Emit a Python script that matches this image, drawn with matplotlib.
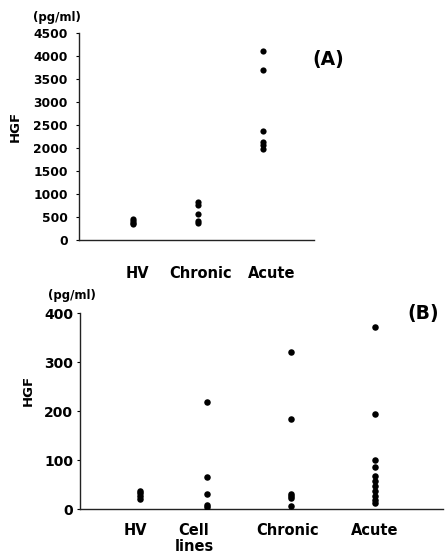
import matplotlib
matplotlib.use("Agg")
import matplotlib.pyplot as plt
import matplotlib.transforms as mtransforms

plt.rcParams['font.family'] = ['DejaVu Sans']
plt.rcParams['font.weight'] = 'bold'

# Panel A data
a_categories = ["HV", "Chronic", "Acute"]
a_positions = [1, 2, 3]
a_hv = [460, 420, 380, 340]
a_chronic = [820, 770, 560, 420, 360]
a_acute = [4110, 3690, 2380, 2130, 2060, 1980]
a_yticks = [0, 500, 1000, 1500, 2000, 2500, 3000, 3500, 4000, 4500]

# Panel B data
b_categories = ["HV", "Cell\nlines", "Chronic", "Acute"]
b_positions = [1, 2, 3.25, 4.5]
b_hv = [38, 33, 27, 22]
b_cell = [220, 65, 32, 8, 5]
b_chronic = [322, 184, 31, 27, 24, 6]
b_acute = [372, 195, 100, 86, 67, 57, 47, 38, 28, 18, 12]
b_yticks = [0, 100, 200, 300, 400]

fig = plt.figure(figsize=(4.45, 5.54), dpi=100)
W, H = 445, 554

def style(ax):
    for s in ['top', 'right']:
        ax.spines[s].set_visible(False)
    for s in ['left', 'bottom']:
        ax.spines[s].set_linewidth(1.0)
        ax.spines[s].set_color('#222222')

def shift_label(lbl, dx_px):
    lbl.set_transform(lbl.get_transform() + mtransforms.ScaledTranslation(dx_px / 100, 0, fig.dpi_scale_trans))

# Panel A
axA = fig.add_axes([79 / W, 1 - 240 / H, 235 / W, 207 / H])
style(axA)
for pos, vals in zip(a_positions, [a_hv, a_chronic, a_acute]):
    axA.scatter([pos] * len(vals), vals, s=20, color='black', marker='o', linewidths=0, zorder=3)
axA.set_xlim(0.17, 3.78)
axA.set_ylim(0, 4500)
axA.set_yticks(a_yticks)
axA.set_yticklabels([str(v) for v in a_yticks], fontsize=8.8, fontweight='bold')
axA.set_xticks(a_positions)
axA.set_xticklabels(a_categories, fontsize=10.5, fontweight='bold')
axA.tick_params(axis='x', length=0, pad=19)
axA.tick_params(axis='y', length=2, width=0.8, pad=6)
for lbl, dx in zip(axA.get_xticklabels(), [4, 2, 8]):
    shift_label(lbl, dx)
fig.text(57 / W, 1 - 18 / H, "(pg/ml)", fontsize=8.5, fontweight='bold', ha='center', va='center')
fig.text(15 / W, 1 - 126 / H, "HGF", fontsize=9.5, fontweight='bold', ha='center', va='center', rotation=90)
fig.text(328 / W, 1 - 60 / H, "(A)", fontsize=13.5, fontweight='bold', ha='center', va='center')

# Panel B
axB = fig.add_axes([80 / W, 1 - 509.3 / H, 363 / W, 196 / H])
style(axB)
for pos, vals in zip(b_positions, [b_hv, b_cell, b_chronic, b_acute]):
    axB.scatter([pos] * len(vals), vals, s=22, color='black', marker='o', linewidths=0, zorder=3)
axB.set_xlim(0.105, 5.52)
axB.set_ylim(0, 400)
axB.set_yticks(b_yticks)
axB.set_yticklabels([str(v) for v in b_yticks], fontsize=10, fontweight='bold')
axB.set_xticks(b_positions)
axB.set_xticklabels(b_categories, fontsize=10.5, fontweight='bold', linespacing=1.05)
axB.tick_params(axis='x', length=0, pad=10)
axB.tick_params(axis='y', length=2, width=0.8, pad=3)
for lbl, dx in zip(axB.get_xticklabels(), [-5, -13, -3, 0]):
    shift_label(lbl, dx)
fig.text(72 / W, 1 - 295 / H, "(pg/ml)", fontsize=8.5, fontweight='bold', ha='center', va='center')
fig.text(28 / W, 1 - 390 / H, "HGF", fontsize=9.5, fontweight='bold', ha='center', va='center', rotation=90)
fig.text(423 / W, 1 - 313 / H, "(B)", fontsize=13.5, fontweight='bold', ha='center', va='center')

fig.savefig("out.png", dpi=100)
